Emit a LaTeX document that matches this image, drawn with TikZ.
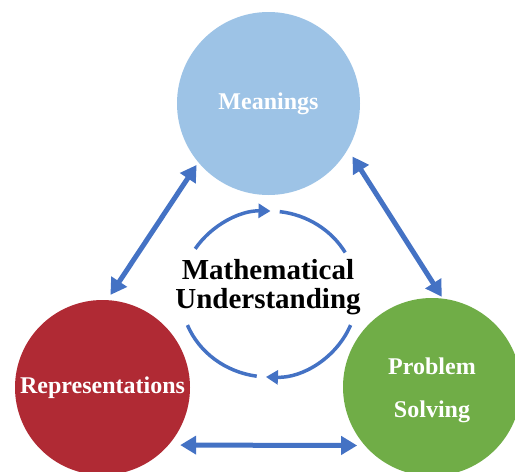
\documentclass[tikz,border=0pt]{standalone}
\usepackage{fontspec}
\setmainfont{Liberation Serif}
\usepackage{xcolor}
\usepackage{tikz}
\usetikzlibrary{arrows.meta}
\definecolor{meaningblue}{RGB}{157, 195, 230}
\definecolor{reprred}{RGB}{176, 42, 52}
\definecolor{solvegreen}{RGB}{112, 173, 71}
\definecolor{linkblue}{RGB}{68, 114, 196}

\begin{document}
\begin{tikzpicture}[
    x=1pt, y=1pt,
    idea/.style={circle, inner sep=0pt, align=center, text=white, font=\fontsize{24}{43}\selectfont\bfseries},
    link/.style={draw=linkblue, line width=5pt, {Triangle[width=18pt,length=16pt]}-{Triangle[width=18pt,length=16pt]}},
    cyclearc/.style={draw=linkblue, line width=3.5pt},
    cyclehead/.style={-{Triangle[width=14pt,length=12pt]}}
]
    \useasboundingbox (0,0) rectangle (515,-472);
    \clip (0,0) rectangle (515,-472);

    % Nodes
    \node [idea, fill=meaningblue, minimum size=183pt] (meanings) at (268.5,-103.5) {Meanings};
    \node [idea, fill=reprred, minimum size=175pt] (representations) at (102.5,-387.5) {Representations};
    \node [idea, fill=solvegreen, minimum size=178pt, text height=67pt] (solving) at (432,-387) {Problem\\Solving};
    \node [align=center, font=\fontsize{29}{29}\selectfont\bfseries] (core) at (268,-287.5) {Mathematical\\Understanding};
    \coordinate (hub) at (269,-294);

    % Paths
    \path [link, shorten <=3pt, shorten >=6pt] (meanings.220) -- (representations.87);
    \path [link, shorten <=8.5pt, shorten >=2pt] (meanings.-30) -- (solving.83);
    \path [link, shorten <=11.5pt, shorten >=7.5pt] (representations.-41) -- (solving.221);

    % Cycle round the centre
    \path [cyclearc, cyclehead] ([shift={(147:88pt and 83pt)}]hub) arc [start angle=147, end angle=89, x radius=88, y radius=83];
    \path [cyclearc] ([shift={(83:88pt and 83pt)}]hub) arc [start angle=83, end angle=30, x radius=88, y radius=83];
    \path [cyclearc, cyclehead] ([shift={(-22:88pt and 83pt)}]hub) arc [start angle=-22, end angle=-92, x radius=88, y radius=83];
    \path [cyclearc] ([shift={(202:88pt and 83pt)}]hub) arc [start angle=202, end angle=262, x radius=88, y radius=83];

\end{tikzpicture}
\end{document}
